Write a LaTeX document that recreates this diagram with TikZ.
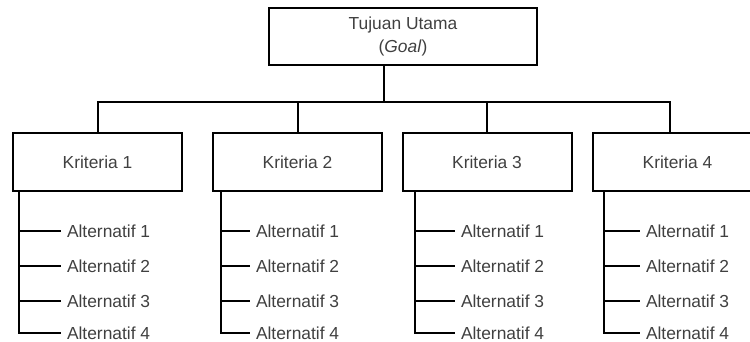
\documentclass[tikz,border=0pt]{standalone}
\usepackage{fontspec}
\setmainfont{Liberation Sans}
\begin{document}
\begin{tikzpicture}[x=0.5pt,y=-0.5pt,line width=1pt,
    every node/.style={font=\fontsize{8.7}{11.5}\selectfont,text=black!75},
    kotak/.style={draw=black,minimum width=84.5pt,minimum height=29pt},
    alt/.style={anchor=west,inner sep=2.5pt}]
    \useasboundingbox (0,0) rectangle (750,342);
    % tujuan dan kriteria
    \node[kotak,minimum width=134pt,minimum height=28.5pt,align=center] (goal) at (403,36.5) {Tujuan Utama\\(\textit{Goal})};
    \node[kotak] (k1) at (97.5,162) {Kriteria 1};
    \node[kotak] (k2) at (297.5,162) {Kriteria 2};
    \node[kotak] (k3) at (487,162) {Kriteria 3};
    \node[kotak] (k4) at (677.5,162) {Kriteria 4};
    \coordinate (bus) at (384,102);
    \coordinate (s4) at (670,133);
    \draw (goal.south -| bus) -- (bus);
    \draw (k1.north) |- (bus) -| (s4);
    \draw (k2.north) -- (k2.north |- bus);
    \draw (k3.north) -- (k3.north |- bus);
    % alternatif
    \foreach \k/\x/\t in {1/19/61, 2/221/250, 3/415/455, 4/604/640} {
        \coordinate (v\k) at (\x,191);
        \foreach \i/\y in {1/231,2/266,3/301,4/333}
            \node[alt] (a\k\i) at (\t,\y) {Alternatif \i};
        \draw (k\k.south -| v\k) |- (a\k4.west);
        \foreach \i in {1,2,3}
            \draw (v\k |- a\k\i.west) -- (a\k\i.west);
    }
\end{tikzpicture}
\end{document}
